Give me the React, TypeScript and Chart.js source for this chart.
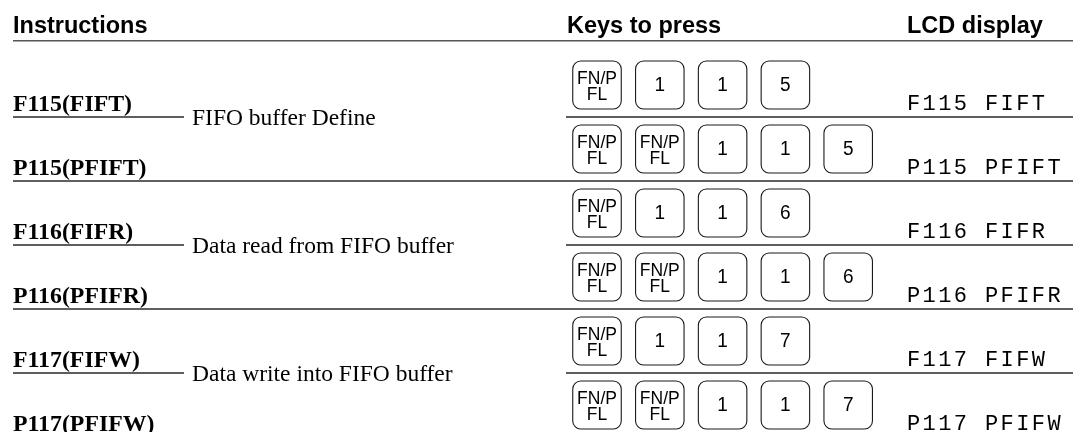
import { useEffect, useRef } from "react";
import { Chart, registerables } from "chart.js";

Chart.register(...registerables);

// ---- content ----
const headers = ["Instructions", "Keys to press", "LCD display"];
const instructions = [
  "F115(FIFT)",
  "P115(PFIFT)",
  "F116(FIFR)",
  "P116(PFIFR)",
  "F117(FIFW)",
  "P117(PFIFW)",
];
const descriptions = [
  "FIFO buffer Define",
  "Data read from FIFO buffer",
  "Data write into FIFO buffer",
];
const keySequences = [
  ["FN/P\nFL", "1", "1", "5"],
  ["FN/P\nFL", "FN/P\nFL", "1", "1", "5"],
  ["FN/P\nFL", "1", "1", "6"],
  ["FN/P\nFL", "FN/P\nFL", "1", "1", "6"],
  ["FN/P\nFL", "1", "1", "7"],
  ["FN/P\nFL", "FN/P\nFL", "1", "1", "7"],
];
const lcdTexts = [
  "F115 FIFT",
  "P115 PFIFT",
  "F116 FIFR",
  "P116 PFIFR",
  "F117 FIFW",
  "P117 PFIFW",
];

// ---- layout ----
const W = 1073;
const H = 432;
const ROW0 = 85; // pixel centre of first row
const PITCH = 64; // pixel pitch between rows
const INSTR_X = 13;
const UNDER_END = 184;
const DESC_X = 192;
const KEYS_LINE_X = 566;
const KEY_X0 = 597;
const KEY_PITCH = 62.8;
const KEY_W = 48.5;
const KEY_H = 48;
const LCD_X = 907;
const HEADER_X = [13, 567, 907];

const instrPoints = instructions.map((_, i) => ({ x: INSTR_X, y: i }));
const lcdPoints = lcdTexts.map((_, i) => ({ x: LCD_X, y: i }));
const keyPoints: { x: number; y: number; label: string }[] = [];
keySequences.forEach((seq, i) =>
  seq.forEach((label, k) => keyPoints.push({ x: KEY_X0 + k * KEY_PITCH, y: i, label }))
);

const tablePlugin = {
  id: "keyTable",
  afterDatasetsDraw(chart: any) {
    const ctx: CanvasRenderingContext2D = chart.ctx;
    const ys = chart.scales.y;
    const xs = chart.scales.x;
    ctx.save();
    ctx.fillStyle = "#000";
    ctx.textBaseline = "alphabetic";

    // header
    const headerLine = ys.getPixelForValue(-0.5) - 12.3;
    ctx.font = "bold 23.5px 'Liberation Sans', Arial, sans-serif";
    ctx.textAlign = "left";
    headers.forEach((h, i) => ctx.fillText(h, xs.getPixelForValue(HEADER_X[i]), headerLine - 8));
    ctx.strokeStyle = "#555";
    ctx.lineWidth = 1.4;
    ctx.beginPath();
    ctx.moveTo(xs.getPixelForValue(INSTR_X), headerLine);
    ctx.lineTo(xs.getPixelForValue(W), headerLine);
    ctx.stroke();

    // row lines and descriptions
    ctx.strokeStyle = "#2a2a2a";
    ctx.lineWidth = 1.3;
    instructions.forEach((_, i) => {
      const ly = ys.getPixelForValue(i + 0.5);
      ctx.beginPath();
      if (i % 2 === 0) {
        ctx.moveTo(xs.getPixelForValue(INSTR_X), ly);
        ctx.lineTo(xs.getPixelForValue(UNDER_END), ly);
        ctx.moveTo(xs.getPixelForValue(KEYS_LINE_X), ly);
        ctx.lineTo(xs.getPixelForValue(W), ly);
      } else {
        ctx.moveTo(xs.getPixelForValue(INSTR_X), ly);
        ctx.lineTo(xs.getPixelForValue(W), ly);
      }
      ctx.stroke();
      if (i % 2 === 0) {
        ctx.font = "23.5px 'Liberation Serif', 'Times New Roman', serif";
        ctx.fillText(descriptions[i / 2], xs.getPixelForValue(DESC_X), ly + 7.8);
      }
    });

    // instruction labels
    const instrMeta = chart.getDatasetMeta(0);
    ctx.font = "bold 23.8px 'Liberation Serif', 'Times New Roman', serif";
    instrMeta.data.forEach((el: any, i: number) => {
      ctx.fillText(instructions[i], el.x, el.y + 26.3);
    });

    // keys
    const keyMeta = chart.getDatasetMeta(1);
    keyMeta.data.forEach((el: any, j: number) => {
      const label: string = keyPoints[j].label;
      ctx.strokeStyle = "#1a1a1a";
      ctx.lineWidth = 1.1;
      ctx.fillStyle = "#fff";
      ctx.beginPath();
      ctx.roundRect(el.x - KEY_W / 2, el.y - KEY_H / 2, KEY_W, KEY_H, 8);
      ctx.fill();
      ctx.stroke();
      ctx.fillStyle = "#000";
      ctx.textAlign = "center";
      const parts = label.split("\n");
      ctx.save();
      ctx.translate(el.x, el.y);
      ctx.scale(1, 1.1);
      if (parts.length === 2) {
        ctx.font = "17.5px 'Liberation Sans', Arial, sans-serif";
        ctx.fillText(parts[0], 0, -1.5 / 1.1);
        ctx.fillText(parts[1], 0, 14.7 / 1.1);
      } else {
        ctx.font = "19px 'Liberation Sans', Arial, sans-serif";
        ctx.fillText(label, 0, 6.3 / 1.1);
      }
      ctx.restore();
    });

    // LCD texts
    const lcdMeta = chart.getDatasetMeta(2);
    ctx.textAlign = "left";
    ctx.font = "22px 'Liberation Mono', 'Courier New', monospace";
    (ctx as any).letterSpacing = "2.4px";
    lcdMeta.data.forEach((el: any, i: number) => {
      ctx.fillText(lcdTexts[i], el.x, el.y + 25);
    });
    (ctx as any).letterSpacing = "0px";
    ctx.restore();
  },
};

export default function App() {
  const ref = useRef<HTMLCanvasElement>(null);
  useEffect(() => {
    if (!ref.current) return;
    const chart = new Chart(ref.current, {
      type: "scatter",
      data: {
        datasets: [
          { label: "Instructions", data: instrPoints, pointRadius: 0 },
          { label: "Keys", data: keyPoints as any, pointRadius: 0 },
          { label: "LCD", data: lcdPoints, pointRadius: 0 },
        ],
      },
      options: {
        animation: false,
        responsive: true,
        maintainAspectRatio: false,
        layout: { padding: 0 },
        events: [],
        plugins: { legend: { display: false }, tooltip: { enabled: false }, title: { display: false } },
        scales: {
          x: { type: "linear", min: 0, max: W, display: false },
          y: {
            type: "linear",
            min: -ROW0 / PITCH,
            max: (H - ROW0) / PITCH,
            reverse: true,
            display: false,
          },
        },
      },
      plugins: [tablePlugin],
    });
    return () => chart.destroy();
  }, []);
  return (
    <div style={{ position: "absolute", left: 0, top: 0, width: W, height: H, background: "#fff" }}>
      <canvas ref={ref} />
    </div>
  );
}
